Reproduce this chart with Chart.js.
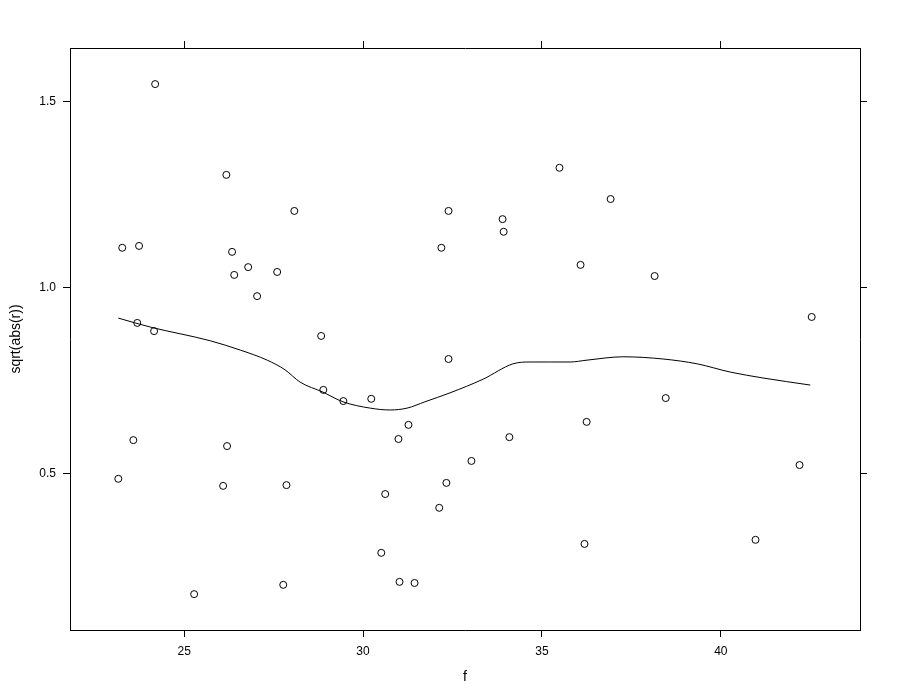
<!DOCTYPE html>
<html><head><meta charset="utf-8">
<script src="https://cdn.jsdelivr.net/npm/chart.js@4/dist/chart.umd.min.js"></script>
<style>html,body{margin:0;padding:0;background:#fff}#wrap{width:900px;height:700px}</style>
</head><body><div id="wrap"><canvas id="c" width="900" height="700"></canvas></div>
<script>
const fVals = [24.19,26.18,23.27,23.74,28.08,26.34,26.40,26.79,27.60,27.04,23.69,24.16,28.83,28.89,29.45,30.23,23.58,26.20,23.16,26.09,27.86,25.28,27.77,32.19,32.39,33.90,33.93,32.39,31.27,30.99,33.03,32.33,30.62,32.13,30.51,31.02,31.44,34.09,35.49,36.92,36.08,38.15,36.25,38.46,36.19,40.97,42.20,42.54];
const rVals = [1.548,1.304,1.108,1.113,1.207,1.097,1.035,1.056,1.043,0.978,0.906,0.884,0.871,0.726,0.696,0.702,0.591,0.575,0.487,0.468,0.470,0.177,0.202,1.108,1.207,1.185,1.151,0.809,0.632,0.594,0.535,0.476,0.446,0.409,0.288,0.210,0.207,0.599,1.323,1.239,1.062,1.032,0.640,0.704,0.312,0.323,0.524,0.922];
const smoothF = [23.16,24.05,25.73,26.57,27.32,27.82,28.24,28.88,29.44,30.20,30.76,31.23,31.73,32.43,33.36,34.19,34.67,35.23,35.79,36.26,37.27,38.39,39.34,40.26,41.18,42.50];
const smoothR = [0.919,0.895,0.858,0.833,0.806,0.780,0.747,0.720,0.694,0.677,0.672,0.677,0.694,0.718,0.755,0.796,0.801,0.801,0.801,0.806,0.815,0.809,0.796,0.774,0.758,0.739];
const xTicks = [25,30,35,40];
const yTicks = [0.5,1.0,1.5];
const xRange = [21.81,43.89];
const yRange = [0.0806,1.645];

const pts = fVals.map((f,i)=>({x:f,y:rVals[i]}));
const line = smoothF.map((f,i)=>({x:f,y:smoothR[i]}));
const font = {family:"'Liberation Sans', Arial, Helvetica, sans-serif", size:12};
function fixTicks(vals){return function(s){s.ticks = vals.map(v=>({value:v}));};}
function size(w,h){return function(s){ if(w!=null) s.width=w; if(h!=null) s.height=h; };}
const gridCommon = {drawOnChartArea:false, drawTicks:true, tickLength:7, color:'#000', lineWidth:1};
const borderCommon = {display:true, color:'#000', width:1};

new Chart(document.getElementById('c'), {
  type:'scatter',
  data:{datasets:[
    {data:pts, showLine:false, pointStyle:'circle', pointRadius:3.5, pointHoverRadius:3.5, borderColor:'#000', backgroundColor:'rgba(0,0,0,0)', borderWidth:1},
    {data:line, showLine:true, pointRadius:0, borderColor:'#000', borderWidth:1, cubicInterpolationMode:'monotone', fill:false}
  ]},
  options:{
    responsive:false, animation:false, events:[],
    layout:{padding:0},
    plugins:{legend:{display:false}, tooltip:{enabled:false}},
    scales:{
      x:{type:'linear', position:'bottom', min:xRange[0], max:xRange[1],
         afterBuildTicks:fixTicks(xTicks), afterFit:size(null,70),
         ticks:{color:'#000', font:font, padding:7, maxRotation:0, callback:v=>String(v)},
         grid:gridCommon, border:borderCommon,
         title:{display:true, text:'f', color:'#000', font:{family:font.family,size:14}, padding:{top:0,bottom:14}}},
      x2:{type:'linear', position:'top', min:xRange[0], max:xRange[1],
         afterBuildTicks:fixTicks(xTicks), afterFit:size(null,48),
         ticks:{display:true, font:font, color:'rgba(0,0,0,0)', callback:()=>''},
         grid:gridCommon, border:borderCommon},
      y:{type:'linear', position:'left', min:yRange[0], max:yRange[1],
         afterBuildTicks:fixTicks(yTicks), afterFit:size(70,null),
         ticks:{color:'#000', font:font, padding:7, callback:v=>v.toFixed(1)},
         grid:gridCommon, border:borderCommon,
         title:{display:true, text:'sqrt(abs(r))', color:'#000', font:{family:font.family,size:14}, padding:{top:8,bottom:0}}},
      y2:{type:'linear', position:'right', min:yRange[0], max:yRange[1],
         afterBuildTicks:fixTicks(yTicks), afterFit:size(40,null),
         ticks:{display:true, font:font, color:'rgba(0,0,0,0)', callback:()=>''},
         grid:gridCommon, border:borderCommon}
    }
  }
});
</script></body></html>
